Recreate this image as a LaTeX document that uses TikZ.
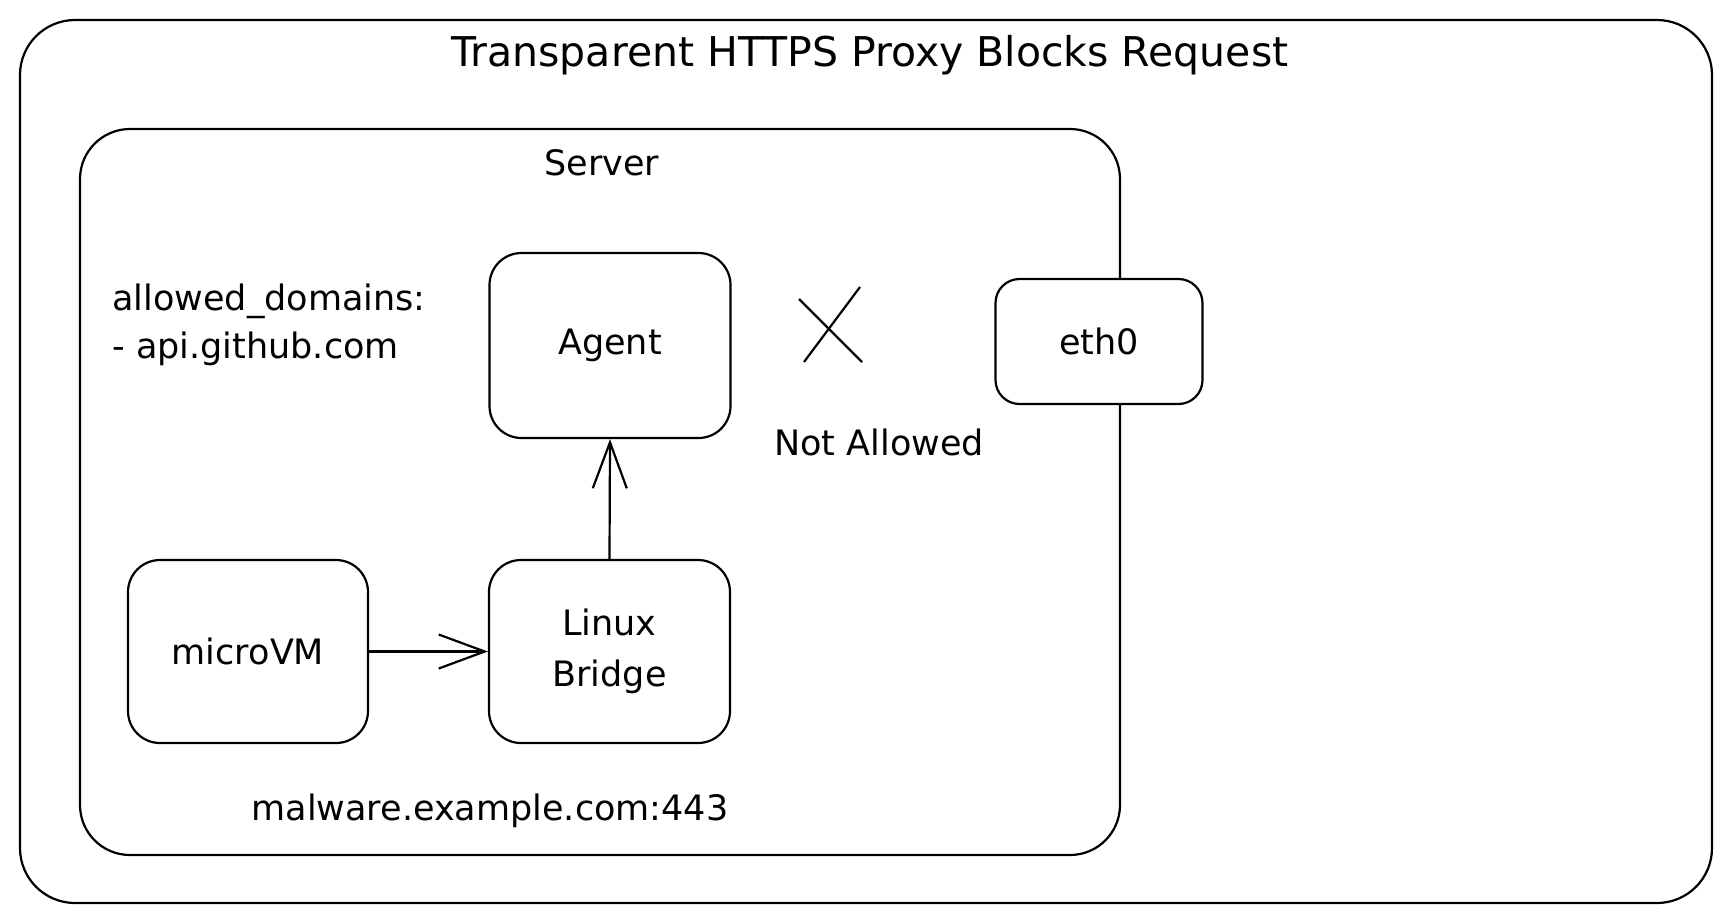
\documentclass[tikz,border=0pt]{standalone}
\usepackage{fontspec}
\setmainfont{DejaVu Sans}
\usetikzlibrary{arrows.meta}
\begin{document}
\begin{tikzpicture}[x=0.5pt,y=-0.5pt,
  ln/.style={line width=1.1pt,draw=black},
  frame/.style={ln,rounded corners=#1},
  box/.style={ln,rounded corners=16pt,fill=white,align=center,inner sep=0pt,
    font=\fontsize{17.5}{25.5}\selectfont},
  lbl/.style={inner sep=0pt,font=\fontsize{17.5}{25.5}\selectfont},
  ttl/.style={inner sep=0pt,font=\fontsize{20.5}{24}\selectfont},
  arr/.style={ln,-{Straight Barb[length=23pt,width=17pt,line width=1.1pt]}}]
\useasboundingbox (0,0) rectangle (1731,923);
\fill[white] (0,0) rectangle (1731,923);
% outer frame and server frame
\draw[frame=27.5pt] (20,20) rectangle (1712,903);
\draw[frame=25pt] (80,129) rectangle (1120,855);
% titles
\node[ttl,anchor=base] (title) at (870,66) {Transparent HTTPS Proxy Blocks Request};
\node[lbl,anchor=base] (server) at (602,175) {Server};
% allowed domains
\node[lbl,anchor=base west] (allowed) at (112,310) {allowed\_domains:};
\node[lbl,anchor=base west] (github) at (112,358) {- api.github.com};
% boxes
\node[box,minimum width=120.5pt,minimum height=92.5pt] (agent) at (610,345.5) {Agent};
\node[box,minimum width=120.5pt,minimum height=91.5pt] (bridge) at (609.5,651.5) {Linux\\Bridge};
\node[box,minimum width=120pt,minimum height=91.5pt] (vm) at (248,651.5) {microVM};
\node[box,rounded corners=12pt,minimum width=103.5pt,minimum height=62.5pt] (eth) at (1099,341.5) {eth0};
% connectors
\draw[arr] (vm.east) -- (bridge.west);
\draw[arr] (bridge.north) -- (agent.south);
% blocked mark
\draw[ln] (799,299) -- (862,362);
\draw[ln] (860,287) -- (804,362);
\node[lbl,anchor=base] (notallowed) at (879,455) {Not Allowed};
\node[lbl,anchor=base] (malware) at (490,820) {malware.example.com:443};
\end{tikzpicture}
\end{document}
